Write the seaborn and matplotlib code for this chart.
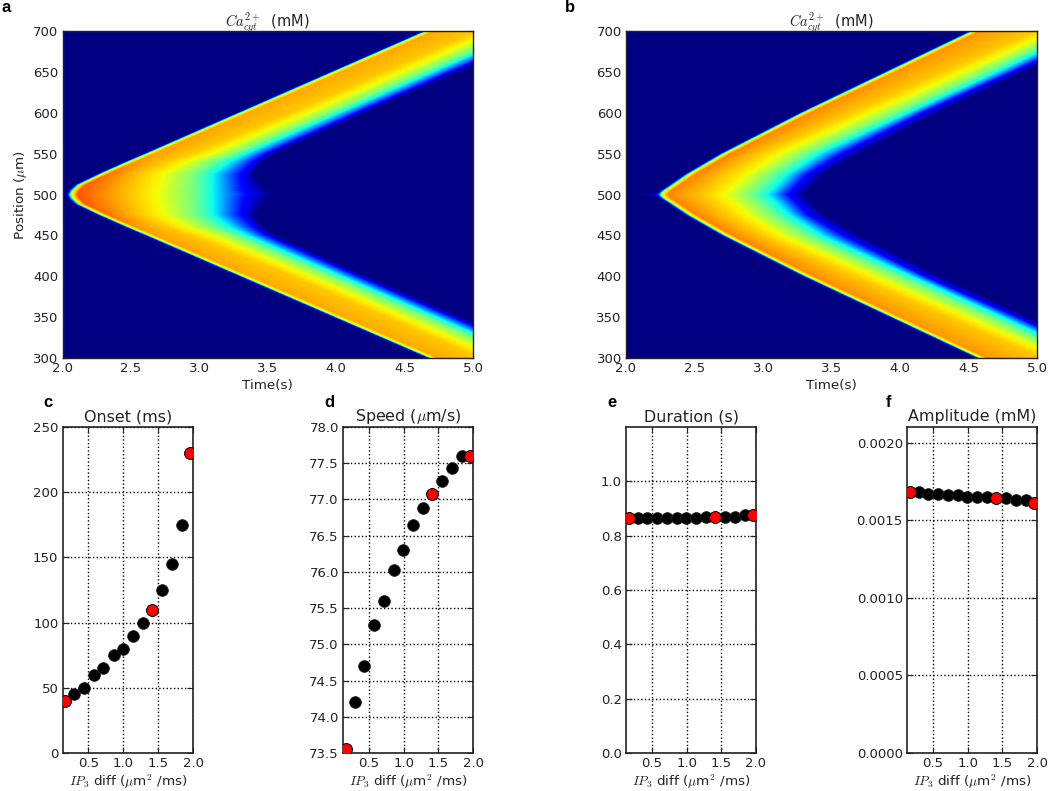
import numpy as np
import pandas as pd
import matplotlib
matplotlib.use('Agg')
import matplotlib.pyplot as plt
import seaborn as sns

# IP3 diffusion values shared by the four small panels
ip3_diff = [0.165, 0.294, 0.433, 0.577, 0.715, 0.859, 0.993, 1.136, 1.28, 1.414, 1.553, 1.696, 1.84, 1.96]
is_red = [True, False, False, False, False, False, False, False, False, True, False, False, False, True]

onset = [40, 45, 50, 60, 65, 75, 80, 90, 100, 110, 125, 145, 175, 230]
speed = [73.55, 74.2, 74.7, 75.26, 75.6, 76.02, 76.3, 76.65, 76.88, 77.07, 77.25, 77.43, 77.6, 77.6]
duration = [0.865, 0.865, 0.865, 0.865, 0.865, 0.865, 0.865, 0.865, 0.87, 0.87, 0.87, 0.87, 0.875, 0.875]
amplitude = [0.00168, 0.00168, 0.00167, 0.00167, 0.00166, 0.00166, 0.00165, 0.00165, 0.00165, 0.00164,
             0.00164, 0.00163, 0.00163, 0.00161]

# wave read off panels a and b: time (s) the colour reaches each level,
# by distance (um) from the 500 um initiation site
front_d_a = [0, 5, 12, 25, 40, 50, 100, 150, 200]
arrival_a = [2.05, 2.065, 2.11, 2.27, 2.47, 2.61, 3.29, 3.97, 4.65]
band_d_a = [0, 5, 25, 40, 50, 100, 150, 200]
orange_a = [2.50, 2.50, 2.56, 2.74, 2.92, 3.65, 4.33, 5.01]
yellow_a = [2.69, 2.69, 2.73, 2.90, 3.08, 3.79, 4.47, 5.15]
green_a = [2.95, 2.95, 2.96, 3.09, 3.25, 3.95, 4.63, 5.31]
cyan_a = [3.12, 3.12, 3.12, 3.24, 3.36, 4.04, 4.72, 5.40]
blue_a = [3.36, 3.33, 3.31, 3.40, 3.49, 4.15, 4.83, 5.51]
dark_a = [3.55, 3.51, 3.40, 3.47, 3.55, 4.21, 4.89, 5.57]
peak_a = [0.82, 0.82, 0.79, 0.75, 0.74, 0.73, 0.73, 0.73]
lower_lag_a = 0.03

front_d_b = [0, 2, 5, 10, 25, 50, 100, 150, 200]
arrival_b = [2.245, 2.25, 2.27, 2.315, 2.445, 2.70, 3.28, 3.90, 4.52]
band_d_b = [0, 25, 50, 100, 150, 200]
orange_b = [2.55, 2.72, 2.97, 3.63, 4.30, 4.97]
yellow_b = [2.71, 2.88, 3.12, 3.78, 4.45, 5.12]
green_b = [2.90, 3.06, 3.30, 3.96, 4.62, 5.25]
cyan_b = [3.05, 3.20, 3.43, 4.07, 4.72, 5.35]
blue_b = [3.19, 3.33, 3.58, 4.16, 4.82, 5.46]
dark_b = [3.31, 3.45, 3.70, 4.28, 4.90, 5.53]
peak_b = [0.77, 0.77, 0.77, 0.76, 0.75, 0.75]
lower_lag_b = 0.05

time_ticks = [2.0, 2.5, 3.0, 3.5, 4.0, 4.5, 5.0]
pos_ticks = [300, 350, 400, 450, 500, 550, 600, 650, 700]

sns.set_style('ticks')
plt.rcParams.update({'font.family': ['DejaVu Sans'], 'mathtext.fontset': 'cm', 'text.color': '#222222',
                     'axes.edgecolor': '#222222', 'axes.labelcolor': '#222222',
                     'xtick.color': '#222222', 'ytick.color': '#222222'})

W, H = 1050, 791
fig = plt.figure(figsize=(W / 100, H / 100), dpi=100)


def px_axes(x0, y0, x1, y1):
    return fig.add_axes([x0 / W, 1 - y1 / H, (x1 - x0) / W, (y1 - y0) / H])


def wave_matrix(front_d, arrival, band_d, contours, peak, lag, halo=False):
    times = np.linspace(2, 5, 411)
    positions = np.linspace(300, 700, 327)
    rows = []
    for p in positions:
        d = abs(p - 500)
        shift = lag * d / 200 if p < 500 else 0
        t0 = np.interp(d, front_d, arrival) + shift
        band = [np.interp(d, band_d, c) + shift for c in contours]
        top = np.interp(d, band_d, peak)
        xp = [t0 - 0.025, t0, t0 + 0.014, t0 + 0.06] + band
        fp = [0, 0.3, 0.6, top, 0.7, 0.645, 0.5, 0.35, 0.12, 0]
        if halo and d < 2:
            xp = [t0 - 0.13] + xp
            fp = [0] + fp
            fp[1] = 0.08
        rows.append(np.interp(times, xp, fp))
    return np.array(rows)


def wave_panel(rect, matrix, ylabel=None):
    ax = px_axes(*rect)
    sns.heatmap(matrix, ax=ax, cmap='jet', vmin=0, vmax=1, cbar=False, xticklabels=False, yticklabels=False)
    ax.invert_yaxis()
    nrow, ncol = matrix.shape
    ax.set_xticks([(t - 2) / 3 * ncol for t in time_ticks])
    ax.set_xticklabels([str(t) for t in time_ticks], rotation=0)
    ax.set_yticks([(p - 300) / 400 * nrow for p in pos_ticks])
    ax.set_yticklabels([str(p) for p in pos_ticks], rotation=0)
    ax.tick_params(direction='in', top=True, right=True, length=4, width=0.8, labelsize=9.5, pad=3)
    for s in ax.spines.values():
        s.set_visible(True)
        s.set_linewidth(1)
    ax.set_title(r'$Ca_{cyt}^{2+}$  (mM)', fontsize=10.5, pad=3)
    ax.set_xlabel('Time(s)', fontsize=9.7, labelpad=3)
    if ylabel:
        ax.set_ylabel(ylabel, fontsize=9.7, labelpad=3)
    return ax


def dots_panel(rect, values, title, ylim, yticks, yfmt):
    ax = px_axes(*rect)
    df = pd.DataFrame({'x': ip3_diff, 'y': values, 'red': is_red})
    ax.grid(True, color='black', linestyle=':', linewidth=1)
    ax.set_axisbelow(True)
    sns.scatterplot(data=df, x='x', y='y', ax=ax, color='black', edgecolor='#222222', linewidth=0.5, s=72,
                    legend=False, zorder=3)
    sns.scatterplot(data=df[df['red']], x='x', y='y', ax=ax, color='red', edgecolor='black', linewidth=0.6, s=72,
                    legend=False, zorder=4)
    ax.set_xlim(0.127, 2.0)
    ax.set_ylim(*ylim)
    ax.set_xticks([0.5, 1.0, 1.5, 2.0])
    ax.set_yticks(yticks)
    ax.set_yticklabels([yfmt.format(v) for v in yticks])
    ax.tick_params(direction='in', top=True, right=True, length=4, width=0.8, labelsize=9.5, pad=3)
    for s in ax.spines.values():
        s.set_linewidth(1.2)
    ax.set_title(title, fontsize=11.4, pad=4)
    ax.set_xlabel(r'$IP_3$ diff ($\mu$m$^2$ /ms)', fontsize=9.7, labelpad=2)
    ax.set_ylabel('')
    return ax


matrix_a = wave_matrix(front_d_a, arrival_a, band_d_a, [orange_a, yellow_a, green_a, cyan_a, blue_a, dark_a],
                       peak_a, lower_lag_a)
matrix_b = wave_matrix(front_d_b, arrival_b, band_d_b, [orange_b, yellow_b, green_b, cyan_b, blue_b, dark_b],
                       peak_b, lower_lag_b, halo=True)
wave_panel((62.5, 31, 473, 358), matrix_a, ylabel=r'Position ($\mu$m)')
wave_panel((626, 31, 1037, 358), matrix_b)

dots_panel((62.5, 427, 193, 753), onset, 'Onset (ms)', (0, 250), [0, 50, 100, 150, 200, 250], '{:d}')
dots_panel((343, 427, 473, 753), speed, r'Speed ($\mu$m/s)', (73.5, 78.0),
           [73.5, 74.0, 74.5, 75.0, 75.5, 76.0, 76.5, 77.0, 77.5, 78.0], '{:.1f}')
dots_panel((626, 427, 756, 753), duration, 'Duration (s)', (0, 1.2), [0.0, 0.2, 0.4, 0.6, 0.8, 1.0], '{:.1f}')
dots_panel((907, 427, 1037, 753), amplitude, 'Amplitude (mM)', (0, 0.0021),
           [0.0, 0.0005, 0.0010, 0.0015, 0.0020], '{:.4f}')

for letter, x, y in [('a', 2, 8), ('b', 565, 8), ('c', 43, 402), ('d', 324, 402), ('e', 607, 402), ('f', 886, 402)]:
    fig.text(x / W, 1 - y / H, letter, fontsize=12, fontweight='bold', family='Liberation Sans', color='black',
             va='center', ha='left')

fig.savefig('out.png', dpi=100)
